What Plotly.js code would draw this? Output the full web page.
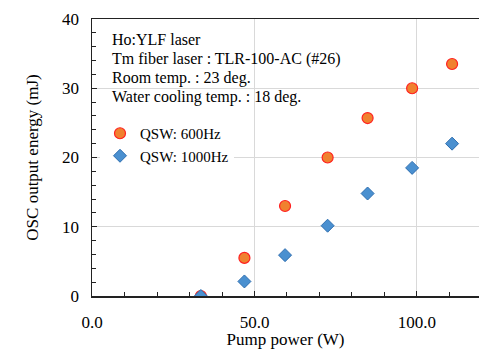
<!DOCTYPE html>
<html><head><meta charset="utf-8">
<script src="https://cdn.plot.ly/plotly-3.0.1.min.js"></script>
<style>html,body{margin:0;padding:0;background:#fff}#c{width:479px;height:349px}</style>
</head><body><div id="c"></div>
<script>
const pumpPower = [33.5, 46.9, 59.4, 72.5, 84.8, 98.5, 110.8];
const energy600 = [0.0, 5.5, 13.0, 20.0, 25.7, 30.0, 33.5];
const energy1000 = [0.0, 2.1, 5.9, 10.15, 14.8, 18.5, 22.0];
const seriesNames = ['QSW: 600Hz', 'QSW: 1000Hz'];
const infoLines = ['Ho:YLF laser', 'Tm fiber laser : TLR-100-AC (#26)', 'Room temp. : 23 deg.', 'Water cooling temp. : 18 deg.'];

const font = '"Liberation Serif", "Times New Roman", serif';
const traces = [
  {x: pumpPower, y: energy600, name: seriesNames[0], mode: 'markers', type: 'scatter',
   marker: {symbol: 'circle', size: 11, color: '#F0812F', line: {color: '#FF2020', width: 1.2}}},
  {x: pumpPower, y: energy1000, name: seriesNames[1], mode: 'markers', type: 'scatter',
   marker: {symbol: 'diamond', size: 10, color: '#4A90D0', line: {color: '#2E6EB0', width: 1}}}
];
const annotations = infoLines.map((t, i) => ({
  text: t, xref: 'paper', yref: 'paper', x: 18/387, y: 1 - (21 + i*19)/277,
  xanchor: 'left', yanchor: 'middle', showarrow: false, align: 'left',
  font: {family: font, size: 16, color: '#000'}
}));
const layout = {
  width: 479, height: 349,
  margin: {l: 92, r: 0, t: 19, b: 53},
  paper_bgcolor: '#fff', plot_bgcolor: '#fff',
  font: {family: font, size: 16, color: '#000'},
  showlegend: true,
  legend: {x: 8/387, y: 1 - 98/277, xanchor: 'left', yanchor: 'top', bgcolor: '#fff',
           font: {family: font, size: 15}, itemwidth: 30, tracegroupgap: 0},
  xaxis: {range: [0, 119.08], dtick: 50, tick0: 0, tickformat: '.1f',
          showgrid: true, gridcolor: '#d9d9d9', gridwidth: 1, zeroline: false,
          showline: true, linecolor: '#222', linewidth: 1.5, mirror: true,
          ticks: 'inside', ticklen: 5, tickcolor: '#222', ticklabelstandoff: 10,
          minor: {dtick: 10, ticks: 'inside', ticklen: 4, tickcolor: '#222', showgrid: false},
          title: {text: 'Pump power (W)', font: {family: font, size: 17}, standoff: 9},
          tickfont: {family: font, size: 17}},
  yaxis: {range: [0, 40], dtick: 10, tick0: 0,
          showgrid: true, gridcolor: '#d9d9d9', gridwidth: 1, zeroline: false,
          showline: true, linecolor: '#222', linewidth: 1.5, mirror: false,
          ticks: 'inside', ticklen: 5, tickcolor: '#222', ticklabelstandoff: 8,
          minor: {dtick: 2, ticks: 'inside', ticklen: 4, tickcolor: '#222', showgrid: false},
          title: {text: 'OSC output energy (mJ)', font: {family: font, size: 17}, standoff: 19},
          tickfont: {family: font, size: 17}},
  annotations: annotations
};
Plotly.newPlot('c', traces, layout, {displayModeBar: false, staticPlot: true});
</script></body></html>
